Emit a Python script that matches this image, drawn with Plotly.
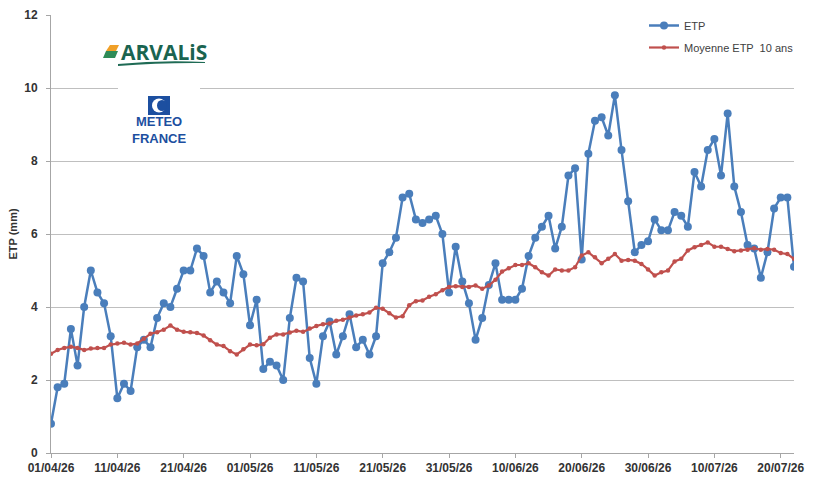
import pandas as pd
import plotly.graph_objects as go

start_date = "2026-04-01"
n_days = 113
dates = pd.date_range(start_date, periods=n_days, freq="D")

etp = [
    0.8, 1.8, 1.9, 3.4, 2.4, 4.0, 5.0, 4.4, 4.1, 3.2,
    1.5, 1.9, 1.7, 2.9, 3.1, 2.9, 3.7, 4.1, 4.0, 4.5,
    5.0, 5.0, 5.6, 5.4, 4.4, 4.7, 4.4, 4.1, 5.4, 4.9,
    3.5, 4.2, 2.3, 2.5, 2.4, 2.0, 3.7, 4.8, 4.7, 2.6,
    1.9, 3.2, 3.6, 2.7, 3.2, 3.8, 2.9, 3.1, 2.7, 3.2,
    5.2, 5.5, 5.9, 7.0, 7.1, 6.4, 6.3, 6.4, 6.5, 6.0,
    4.4, 5.65, 4.7, 4.1, 3.1, 3.7, 4.6, 5.2, 4.2, 4.2,
    4.2, 4.5, 5.4, 5.9, 6.2, 6.5, 5.6, 6.2, 7.6, 7.8,
    5.3, 8.2, 9.1, 9.2, 8.7, 9.8, 8.3, 6.9, 5.5, 5.7,
    5.8, 6.4, 6.1, 6.1, 6.6, 6.5, 6.2, 7.7, 7.3, 8.3,
    8.6, 7.6, 9.3, 7.3, 6.6, 5.7, 5.6, 4.8, 5.5, 6.7,
    7.0, 7.0, 5.1,
]

etp_moy10 = [
    2.72, 2.82, 2.88, 2.91, 2.88, 2.82, 2.86, 2.88, 2.88, 2.97,
    3.0, 3.02, 2.97, 3.0, 3.13, 3.27, 3.31, 3.38, 3.49, 3.38,
    3.32, 3.31, 3.29, 3.22, 3.09, 2.97, 2.93, 2.79, 2.7, 2.84,
    2.97, 2.95, 2.98, 3.16, 3.25, 3.25, 3.3, 3.35, 3.32, 3.41,
    3.48, 3.53, 3.55, 3.62, 3.65, 3.71, 3.77, 3.8, 3.85, 3.98,
    3.95, 3.83, 3.71, 3.75, 4.05, 4.16, 4.18, 4.28, 4.35, 4.46,
    4.55, 4.57, 4.55, 4.55, 4.59, 4.5, 4.59, 4.75, 4.97, 5.06,
    5.15, 5.15, 5.2, 5.09, 4.95, 4.86, 5.03, 5.0, 5.0, 5.09,
    5.41, 5.5, 5.36, 5.2, 5.32, 5.45, 5.27, 5.29, 5.27, 5.18,
    5.03, 4.86, 4.95, 5.0, 5.25, 5.32, 5.55, 5.64, 5.7, 5.77,
    5.65, 5.65, 5.59, 5.53, 5.55, 5.57, 5.61, 5.57, 5.59, 5.57,
    5.48, 5.45, 5.32,
]

y_ticks = [0, 2, 4, 6, 8, 10, 12]
series_names = ["ETP", "Moyenne ETP  10 ans"]
y_title = "ETP (mm)"

BLUE = "#4A7EBB"
RED = "#C0504D"

fig = go.Figure()
fig.add_trace(go.Scatter(
    x=dates, y=etp, name=series_names[0], mode="lines+markers",
    line=dict(color=BLUE, width=2.5),
    marker=dict(color=BLUE, size=8),
    legendgroup="a",
))
fig.add_trace(go.Scatter(
    x=dates, y=etp_moy10, name=series_names[1], mode="lines+markers",
    line=dict(color=RED, width=2.2),
    marker=dict(color=RED, size=4.5),
    legendgroup="b",
))

W, H = 820, 486
L, R, T, B = 51, 26, 15, 33
pw = W - L - R
ph = H - T - B


def px(x):
    return (x - L) / pw


def py(y):
    return (H - B - y) / ph


shapes = [
    # white patch behind logos (breaks the gridline at 10)
    dict(type="rect", xref="paper", yref="paper", x0=px(118), x1=px(200),
         y0=py(142), y1=py(38), fillcolor="white", line=dict(width=0), layer="above"),
    # ARVALIS leaf (orange top, green bottom)
    dict(type="path", xref="paper", yref="paper",
         path=f"M {px(106)},{py(51)} L {px(110)},{py(45)} L {px(119)},{py(45)} L {px(116)},{py(51)} Z",
         fillcolor="#F0A028", line=dict(width=0), layer="above"),
    dict(type="path", xref="paper", yref="paper",
         path=f"M {px(103)},{py(58)} L {px(106)},{py(51)} L {px(118)},{py(51)} L {px(115)},{py(58)} Z",
         fillcolor="#2E8B57", line=dict(width=0), layer="above"),
    # ARVALIS underline swoosh
    dict(type="path", xref="paper", yref="paper",
         path=f"M {px(118)},{py(64)} Q {px(160)},{py(60)} {px(205)},{py(62)} L {px(205)},{py(63)} Q {px(160)},{py(62.5)} {px(118)},{py(66)} Z",
         fillcolor="#1F6B55", line=dict(width=0), layer="above"),
    # METEO FRANCE icon
    dict(type="rect", xref="paper", yref="paper", x0=px(148), x1=px(170),
         y0=py(115), y1=py(96), fillcolor="#1C4FA0", line=dict(width=0), layer="above"),
    dict(type="circle", xref="paper", yref="paper", x0=px(152), x1=px(166),
         y0=py(112.5), y1=py(98.5), fillcolor="white", line=dict(width=0), layer="above"),
    dict(type="circle", xref="paper", yref="paper", x0=px(157), x1=px(167),
         y0=py(111), y1=py(100), fillcolor="#1C4FA0", line=dict(width=0), layer="above"),
]

annotations = [
    dict(xref="paper", yref="paper", x=px(164), y=py(52), text="<b>ARVALiS</b>",
         showarrow=False, font=dict(family="Open Sans", size=21, color="#1A6450"),
         xanchor="center", yanchor="middle"),
    dict(xref="paper", yref="paper", x=px(159), y=py(129.5), text="<b>METEO<br>FRANCE</b>",
         showarrow=False, font=dict(family="Liberation Sans", size=13, color="#1C4FA0"),
         xanchor="center", yanchor="middle", align="center"),
]

axis_font = dict(family="Liberation Sans", size=12, color="#333333", weight="bold")

fig.update_layout(
    width=W, height=H,
    margin=dict(l=L, r=R, t=T, b=B, autoexpand=False),
    paper_bgcolor="white", plot_bgcolor="white",
    showlegend=True,
    legend=dict(x=px(644), y=1 - 11 / H, xanchor="left", yanchor="top",
                yref="container",
                font=dict(family="Liberation Sans", size=11, color="#404040"),
                bgcolor="rgba(0,0,0,0)", tracegroupgap=3, itemwidth=30,
                traceorder="grouped"),
    shapes=shapes,
    annotations=annotations,
    xaxis=dict(
        type="date",
        range=[dates[0], dates[-1]],
        tick0=dates[0], dtick=10 * 24 * 3600 * 1000,
        tickformat="%d/%m/%y",
        showgrid=False, zeroline=False,
        showline=True, linecolor="#A6A6A6", linewidth=1,
        ticks="outside", ticklen=4, tickcolor="#A6A6A6",
        tickfont=axis_font,
    ),
    yaxis=dict(
        range=[0, 12], tickvals=y_ticks,
        showgrid=True, gridcolor="#BFBFBF", gridwidth=1,
        zeroline=False,
        showline=True, linecolor="#A6A6A6", linewidth=1,
        ticks="outside", ticklen=4, tickcolor="#A6A6A6",
        ticklabelstandoff=6,
        tickfont=axis_font,
        title=dict(text=y_title, font=dict(family="Liberation Sans", size=11,
                                           color="#333333", weight="bold"), standoff=4),
    ),
)

fig.write_html("out.html")
